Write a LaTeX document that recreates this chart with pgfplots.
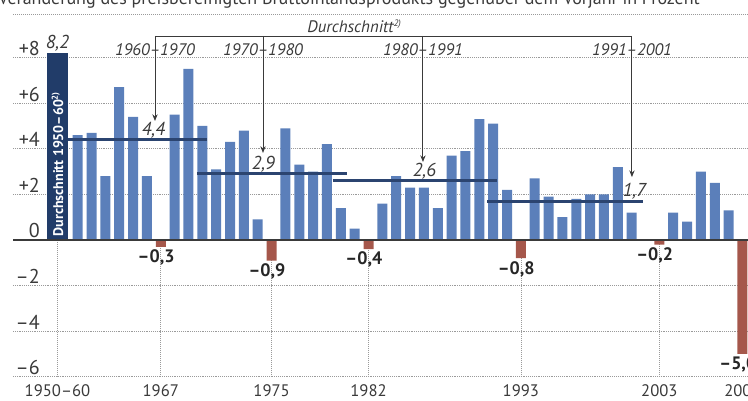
\documentclass[border=0pt]{standalone}
\usepackage{pgfplots}
\pgfplotsset{compat=1.18}
\usepackage{fontspec}
\setmainfont{PT Sans}
\usetikzlibrary{arrows.meta}
\definecolor{barblue}{HTML}{5B7FBA}
\definecolor{barnavy}{HTML}{213C69}
\definecolor{barred}{HTML}{A5574B}
\definecolor{avgnavy}{HTML}{2B4470}
\definecolor{txt}{HTML}{3A3A3A}
\definecolor{gridc}{HTML}{9A9A9A}
\begin{document}
\begin{tikzpicture}
\begin{axis}[
  x=10.3875pt, y=17.1pt,
  xmin=1956.33, xmax=2009.4, ymin=-6, ymax=8,
  clip=false,
  axis line style={draw=none},
  major tick length=0pt,
  ytick={-6,-4,-2,0,2,4,6,8},
  yticklabels={–6,–4,–2,0,+2,+4,+6,+8},
  ymajorgrids, grid style={densely dotted, gridc, line width=0.5pt},
  xtick={1959.54,1967,1975,1982,1993,2003,2009},
  xticklabels={1950–60,1967,1975,1982,1993,2003,2009},
  yticklabel style={anchor=base east, inner sep=0pt, xshift=20.25pt, yshift=1.5pt, font=\fontsize{15}{17}\selectfont, text=txt},
  xticklabel style={font=\fontsize{12.5}{14}\selectfont, text=txt, yshift=-2pt},
]
% vertical grid below zero
\foreach \xx in {1959.54,1967,1975,1982,1993,2003} {
  \edef\tmp{\noexpand\draw[densely dotted, gridc, line width=0.5pt] (axis cs:\xx,0) -- (axis cs:\xx,-6);}\tmp
}
% top dotted line
\draw[densely dotted, gridc, line width=0.5pt] (axis cs:1956.33,9.91) -- (axis cs:2009.4,9.91);
% title (partly cropped)
\node[anchor=base west, inner sep=0pt, text=txt, font=\fontsize{13.5}{15}\selectfont] at (axis cs:1955.25,10.33) {Veränderung des preisbereinigten Bruttoinlandsprodukts gegenüber dem Vorjahr in Prozent};

% first bar: average 1950-60
\addplot[ybar, bar width=16.2pt, bar shift=0pt, fill=barnavy, draw=none,
  nodes near coords, point meta=explicit symbolic,
  every node near coord/.append style={anchor=south, inner sep=1pt, text=txt, font=\itshape\fontsize{14}{16}\selectfont}]
  coordinates {(1959.54,8.2) [8,2]};

% positive bars
\addplot[ybar, bar width=7.5pt, bar shift=0pt, fill=barblue, draw=none] coordinates {
(1961,4.6) (1962,4.7) (1963,2.8) (1964,6.7) (1965,5.4) (1966,2.8)
(1968,5.5) (1969,7.5) (1970,5.0) (1971,3.1) (1972,4.3) (1973,4.8) (1974,0.9)
(1976,4.9) (1977,3.3) (1978,3.0) (1979,4.2) (1980,1.4) (1981,0.5)
(1983,1.6) (1984,2.8) (1985,2.3) (1986,2.3) (1987,1.4) (1988,3.7) (1989,3.9)
(1990,5.3) (1991,5.1) (1992,2.2)
(1994,2.7) (1995,1.9) (1996,1.0) (1997,1.8) (1998,2.0) (1999,2.0) (2000,3.2) (2001,1.2)
(2004,1.2) (2005,0.8) (2006,3.0) (2007,2.5) (2008,1.3)
};

% negative bars
\addplot[ybar, bar width=7.5pt, bar shift=0pt, fill=barred, draw=none,
  nodes near coords, point meta=explicit symbolic, nodes near coords align={},
  every node near coord/.append style={anchor=north, inner sep=2pt, xshift=-3.5pt, text=black!85, font=\bfseries\fontsize{13.5}{15}\selectfont}]
  coordinates {
(1967,-0.3) [–0,3]
(1975,-0.9) [–0,9]
(1982,-0.4) [–0,4]
(1993,-0.8) [–0,8]
(2003,-0.2) [–0,2]
(2009,-5.0) [–5,0]
};

% zero line
\draw[txt, line width=0.9pt] (axis cs:1956.33,0) -- (axis cs:2009.4,0);

% period averages
\addplot[avgnavy, line width=2.2pt] coordinates {(1960.30,4.4) (1970.35,4.4)};
\addplot[avgnavy, line width=2.2pt] coordinates {(1969.61,2.9) (1980.44,2.9)};
\addplot[avgnavy, line width=2.2pt] coordinates {(1979.43,2.6) (1991.28,2.6)};
\addplot[avgnavy, line width=2.2pt] coordinates {(1990.56,1.7) (2001.82,1.7)};

\node[anchor=south, inner sep=1pt, text=txt, font=\itshape\fontsize{14}{16}\selectfont] at (axis cs:1966.47,4.4) {4,4};
\node[anchor=south, inner sep=1pt, text=txt, font=\itshape\fontsize{14}{16}\selectfont] at (axis cs:1974.41,2.9) {2,9};
\node[anchor=south, inner sep=1pt, text=txt, font=\itshape\fontsize{14}{16}\selectfont] at (axis cs:1986.04,2.6) {2,6};
\node[anchor=south, inner sep=1pt, text=txt, font=\itshape\fontsize{14}{16}\selectfont] at (axis cs:2001.20,1.7) {1,7};

% rotated label in first bar
\node[rotate=90, anchor=west, inner sep=0pt, text=white, font=\bfseries\fontsize{10.5}{12}\selectfont] at (axis cs:1959.54,0.15) {Durchschnitt 1950–60\textsuperscript{\fontsize{6.5}{7}\selectfont 2)}};

% bracket and arrows
\draw[txt, line width=0.7pt] (axis cs:1966.58,8.947) -- (axis cs:2001.02,8.947);
\draw[txt, line width=0.7pt, -{Stealth[length=5pt,width=4pt]}] (axis cs:1966.58,8.947) -- (axis cs:1966.58,5.22);
\draw[txt, line width=0.7pt, -{Stealth[length=5pt,width=4pt]}] (axis cs:1974.38,8.947) -- (axis cs:1974.38,3.82);
\draw[txt, line width=0.7pt, -{Stealth[length=5pt,width=4pt]}] (axis cs:1985.93,8.947) -- (axis cs:1985.93,3.42);
\draw[txt, line width=0.7pt, -{Stealth[length=5pt,width=4pt]}] (axis cs:2001.02,8.947) -- (axis cs:2001.02,2.76);

\node[text=txt, inner sep=0pt, font=\itshape\fontsize{12.5}{14}\selectfont] at (axis cs:1966.58,8.33) {1960–1970};
\node[text=txt, inner sep=0pt, font=\itshape\fontsize{12.5}{14}\selectfont] at (axis cs:1974.38,8.33) {1970–1980};
\node[text=txt, inner sep=0pt, font=\itshape\fontsize{12.5}{14}\selectfont] at (axis cs:1985.93,8.33) {1980–1991};
\node[text=txt, inner sep=0pt, font=\itshape\fontsize{12.5}{14}\selectfont] at (axis cs:2001.02,8.33) {1991–2001};
\node[anchor=base east, text=txt, inner sep=0pt, font=\itshape\fontsize{12.5}{14}\selectfont] at (axis cs:1984.4,9.12) {Durchschnitt\textsuperscript{\fontsize{7}{8}\selectfont 2)}};

\coordinate (BL) at (axis cs:1955.39,-7.061);
\coordinate (TR) at (axis cs:2009.40,10.526);
\end{axis}
\pgfresetboundingbox
\useasboundingbox (BL) rectangle (TR);
\end{tikzpicture}
\end{document}
